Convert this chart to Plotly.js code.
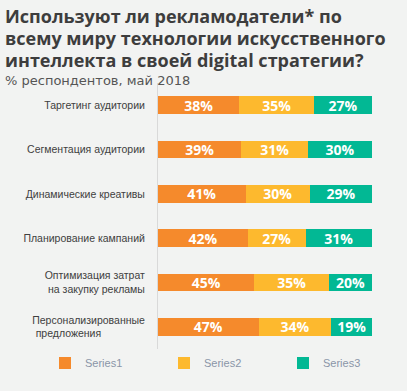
<!DOCTYPE html>
<html><head><meta charset="utf-8">
<script src="https://cdn.plot.ly/plotly-3.0.1.min.js"></script>
<style>html,body{margin:0;padding:0;background:#f2f3f2;}</style>
</head><body>
<div id="chart" style="width:407px;height:391px;"></div>
<script>
const categories = [
  "Таргетинг аудитории",
  "Сегментация аудитории",
  "Динамические креативы",
  "Планирование кампаний",
  "Оптимизация затрат<br>на закупку рекламы",
  "Персонализированные<br>предложения\u00a0\u00a0\u00a0\u00a0\u00a0\u00a0\u00a0\u00a0\u00a0\u00a0\u00a0\u00a0\u00a0\u00a0\u00a0"
];
const series1 = [38, 39, 41, 42, 45, 47];
const series2 = [35, 31, 30, 27, 35, 34];
const series3 = [27, 30, 29, 31, 20, 19];
const seriesNames = ["Series1", "Series2", "Series3"];
const colors = ["#f58a2c", "#fdb92e", "#02b894"];
const titleLines = [
  "Используют ли рекламодатели* по",
  "всему миру технологии искусственного",
  "интеллекта в своей digital стратегии?"
];
const subtitle = "% респондентов, май 2018";

const T = 83, B = 42, H = 391 - T - B;
const py = p => (391 - B - p) / H;   // pixel row -> paper y
const PW = 407 - 158 - 35;
const px = p => (p - 158) / PW;      // pixel column -> paper x

const allSeries = [series1, series2, series3];
const traces = allSeries.map((vals, i) => ({
  type: "bar",
  orientation: "h",
  name: seriesNames[i],
  y: categories,
  x: vals,
  text: vals.map(v => v + "%"),
  textposition: "inside",
  insidetextanchor: "middle",
  constraintext: "none",
  textfont: {family: "Open Sans", size: 14, color: "#ffffff", weight: "bold"},
  marker: {color: colors[i]},
  hoverinfo: "none"
}));

const annotations = titleLines.map((t, i) => ({
  text: t, xref: "paper", yref: "paper", x: px(3), y: py(16 + 22 * i),
  xanchor: "left", yanchor: "middle", align: "left", showarrow: false,
  font: {family: "Open Sans", size: 18, color: "#3d3d3d", weight: "bold"}
}));
annotations.push({
  text: subtitle, xref: "paper", yref: "paper", x: px(3), y: py(80),
  xanchor: "left", yanchor: "middle", align: "left", showarrow: false,
  font: {family: "DejaVu Sans", size: 13, color: "#555555"}
});

const layout = {
  width: 407, height: 391,
  paper_bgcolor: "#f2f3f2",
  plot_bgcolor: "#f2f3f2",
  margin: {l: 158, r: 35, t: T, b: B, autoexpand: false},
  barmode: "stack",
  bargap: 0.595,
  showlegend: true,
  legend: {
    orientation: "h", x: px(45), xanchor: "left",
    y: py(363), yanchor: "middle",
    entrywidth: 74,
    font: {family: "Liberation Sans", size: 11, color: "#8a95a8"},
    traceorder: "normal"
  },
  xaxis: {range: [0, 100], visible: false},
  yaxis: {
    autorange: "reversed",
    showline: true, linecolor: "#d9d9d9", linewidth: 1,
    showgrid: false, zeroline: false,
    ticks: "", ticklabelstandoff: 10,
    tickfont: {family: "Liberation Sans", size: 10.5, color: "#404040"}
  },
  annotations: annotations
};

Plotly.newPlot("chart", traces, layout, {displayModeBar: false, staticPlot: true});
</script>
</body></html>
